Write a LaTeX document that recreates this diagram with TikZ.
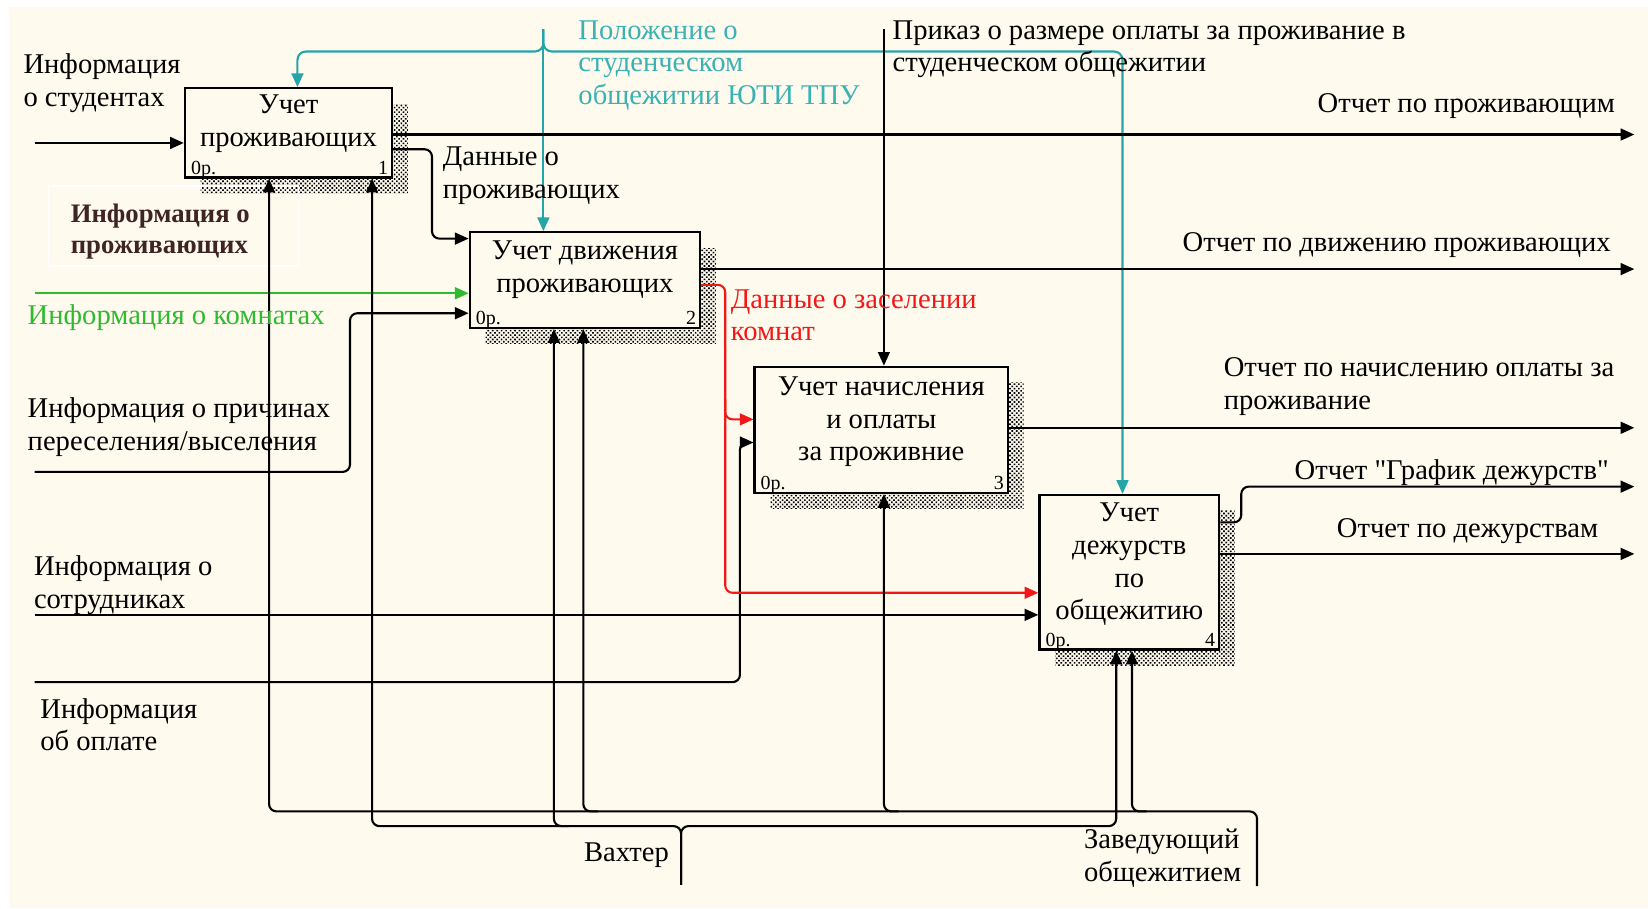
\documentclass[tikz,border=0pt]{standalone}
\usepackage{fontspec}
\setmainfont{Liberation Serif}
\newfontfamily\plainq{Liberation Serif}[Ligatures=ResetAll]
\usetikzlibrary{arrows.meta,patterns.meta,calc}

\definecolor{paper}{RGB}{254,250,238}
\definecolor{ctrlteal}{RGB}{36,166,168}
\definecolor{ctrltealtext}{RGB}{58,178,180}
\definecolor{ingreen}{RGB}{48,186,48}
\definecolor{flowred}{RGB}{242,24,24}
\definecolor{notebrown}{RGB}{62,36,36}

\newcommand{\sq}{{\plainq\symbol{34}}}

\begin{document}
\begin{tikzpicture}[x=0.5pt,y=-0.5pt,
  flow/.style={line width=1pt, rounded corners=3.5pt},
  tip/.style={-{Triangle[length=6.5pt,width=5.6pt]}},
  fbox/.style={draw, line width=1.1pt, fill=paper, inner sep=0pt},
  shade/.style={pattern={Dots[radius=0.55pt,distance=1.5pt,angle=45]}, pattern color=black},
  lbl/.style={font=\fontsize{13.6}{15.6}\selectfont, inner sep=0pt, yshift=-1.5pt},
  ttl/.style={lbl, align=center, anchor=north},
  tiny/.style={font=\fontsize{9.5}{10}\selectfont, inner sep=0pt},
]
\useasboundingbox (0,0) rectangle (1568,864);
\fill[white] (0,0) rectangle (1568,864);
\fill[paper] (9,7) rectangle (1568,864);

% shadows of the activity boxes
\fill[shade] (191,99) rectangle (388,184);
\fill[shade] (462,236) rectangle (681,327);
\fill[shade] (733,364) rectangle (974,484);
\fill[shade] (1004,486) rectangle (1175,633);

% activity boxes
\node[fbox, minimum width=98.5pt, minimum height=42.5pt] (b1) at (274.5,126.5) {};
\node[fbox, minimum width=109.5pt, minimum height=45.5pt] (b2) at (556.5,266.5) {};
\node[fbox, minimum width=120.5pt, minimum height=60pt] (b3) at (838.5,409) {};
\node[fbox, minimum width=85.5pt, minimum height=73.5pt] (b4) at (1074.5,544.5) {};

\node[ttl] (t1) at ($(b1.north)+(0,4)$) {Учет\\проживающих};
\node[ttl] (t2) at ($(b2.north)+(0,6)$) {Учет движения\\проживающих};
\node[ttl] (t3) at ($(b3.north)+(0,7)$) {Учет начисления\\и оплаты\\за проживние};
\node[ttl] (t4) at ($(b4.north)+(0,5)$) {Учет\\дежурств\\по\\общежитию};

\foreach \b/\n in {b1/1,b2/2,b3/3,b4/4}{
  \node[tiny, anchor=base west] (cost\n) at ($(\b.south west)+(6.5,-4)$) {0р.};
  \node[tiny, anchor=base east] (num\n) at ($(\b.south east)+(-4.5,-4)$) {\n};
}

% note frame
\draw[white, line width=0.6pt] (46,177) rectangle (284,253);
\node[lbl, font=\fontsize{12.7}{14.8}\selectfont\bfseries, text=notebrown, align=left, anchor=north west] (note) at (67,191) {Информация о\\проживающих};

% named end points
\coordinate (inStud) at (33,136);
\coordinate (inRoom) at (33,279);
\coordinate (inReas) at (33,449);
\coordinate (kReas) at (333,298);
\coordinate (inStaff) at (33,585);
\coordinate (inPay) at (33,649);
\coordinate (kPay) at (704,421);
\coordinate (kLiv1) at (411,142);
\coordinate (kLiv2) at (411,227);
\coordinate (kRed1) at (690,271);
\coordinate (kRed2) at (690,564);
\coordinate (kRed3) at (690,380);
\coordinate (kRed4) at (690,399);
\coordinate (kPol) at (517,28);
\coordinate (kPolL) at (283,49);
\coordinate (kPolR) at (1068,49);
\coordinate (kOrd) at (841,28);
\coordinate (out1) at (1555,128);
\coordinate (out2) at (1555,256);
\coordinate (out3) at (1555,407);
\coordinate (k4a) at (1181,497);
\coordinate (out4) at (1555,463);
\coordinate (out5) at (1555,527);
\coordinate (kZav) at (1196,843);
\coordinate (kA1) at (256,772);
\coordinate (kA2) at (555,772);
\coordinate (kA3) at (841,772);
\coordinate (kA4) at (1077,772);
\coordinate (kVakh) at (648,842);
\coordinate (kB1) at (354,786);
\coordinate (kB2) at (527,786);
\coordinate (kB4) at (1062,786);

% inputs
\draw[flow, tip] (inStud) -- (b1.west |- inStud);
\draw[flow, tip, ingreen] (inRoom) -- (b2.west |- inRoom);
\draw[flow, tip] (inReas) -| (kReas) -- (b2.west |- kReas);
\draw[flow, tip] (inStaff) -- (b4.west |- inStaff);
\draw[flow, tip] (inPay) -| (kPay) -- (b3.west |- kPay);
\draw[flow, tip] (b1.east |- kLiv1) -- (kLiv1) -- (kLiv2) -- (b2.west |- kLiv2);
\draw[flow, tip, flowred] (b2.east |- kRed1) -- (kRed1) -- (kRed2) -- (b4.west |- kRed2);
\draw[flow, tip, flowred] (kRed3) -- (kRed4) -- (b3.west |- kRed4);

% controls
\draw[flow, tip, ctrlteal] (kPol) -- (b2.north -| kPol);
\draw[flow, rounded corners=4pt, tip, ctrlteal] (kPol) |- (kPolL) -- (b1.north -| kPolL);
\draw[flow, rounded corners=4pt, tip, ctrlteal] (kPol) |- (kPolR) -- (b4.north -| kPolR);
\draw[flow, tip] (kOrd) -- (b3.north -| kOrd);

% outputs
\draw[flow, tip] (b1.east |- out1) -- (out1);
\draw[flow, tip] (b2.east |- out2) -- (out2);
\draw[flow, tip] (b3.east |- out3) -- (out3);
\draw[flow, tip] (b4.east |- k4a) -- (k4a) -- (k4a |- out4) -- (out4);
\draw[flow, tip] (b4.east |- out5) -- (out5);

% mechanisms
\draw[flow, tip] (kZav) |- (kA1) -- (b1.south -| kA1);
\draw[flow, tip] ($(kA2)+(14,0)$) -- (kA2) -- (b2.south -| kA2);
\draw[flow, tip] ($(kA3)+(14,0)$) -- (kA3) -- (b3.south -| kA3);
\draw[flow, tip] ($(kA4)+(14,0)$) -- (kA4) -- (b4.south -| kA4);
\draw[flow, tip] (kVakh) |- (kB1) -- (b1.south -| kB1);
\draw[flow, tip] (kVakh) |- (kB4) -- (b4.south -| kB4);
\draw[flow, tip] ($(kB2)+(14,0)$) -- (kB2) -- (b2.south -| kB2);

% arrow labels
\node[lbl, align=left, anchor=north west] (lStud) at (22,48) {Информация\\о студентах};
\node[lbl, align=left, anchor=north west, text=ingreen] (lRoom) at (26,286) {Информация о комнатах};
\node[lbl, align=left, anchor=north west] (lReas) at (26,375) {Информация о причинах\\переселения/выселения};
\node[lbl, align=left, anchor=north west] (lStaff) at (32,525) {Информация о\\сотрудниках};
\node[lbl, align=left, anchor=north west] (lPay) at (38,661) {Информация\\об оплате};
\node[lbl, align=left, anchor=north west, text=ctrltealtext] (lPol) at (550,16) {Положение о\\студенческом\\общежитии ЮТИ ТПУ};
\node[lbl, align=left, anchor=north west] (lOrd) at (849,16) {Приказ о размере оплаты за проживание в\\студенческом общежитии};
\node[lbl, align=left, anchor=north west] (lLiv) at (421,136) {Данные о\\проживающих};
\node[lbl, align=left, anchor=north west, text=flowred] (lRed) at (695,272) {Данные о заселении\\комнат};
\node[lbl, align=right, anchor=north east] (lOut1) at (1537,86) {Отчет по проживающим};
\node[lbl, align=right, anchor=north east] (lOut2) at (1533,218) {Отчет по движению проживающих};
\node[lbl, align=left, anchor=north west] (lOut3) at (1164,337) {Отчет по начислению оплаты за\\проживание};
\node[lbl, align=right, anchor=north east] (lOut4) at (1531,434) {Отчет \sq График дежурств\sq};
\node[lbl, align=right, anchor=north east] (lOut5) at (1521,490) {Отчет по дежурствам};
\node[lbl, anchor=north] (lVakh) at (596,798) {Вахтер};
\node[lbl, align=left, anchor=north west] (lZav) at (1031,785) {Заведующий\\общежитием};
\end{tikzpicture}
\end{document}
